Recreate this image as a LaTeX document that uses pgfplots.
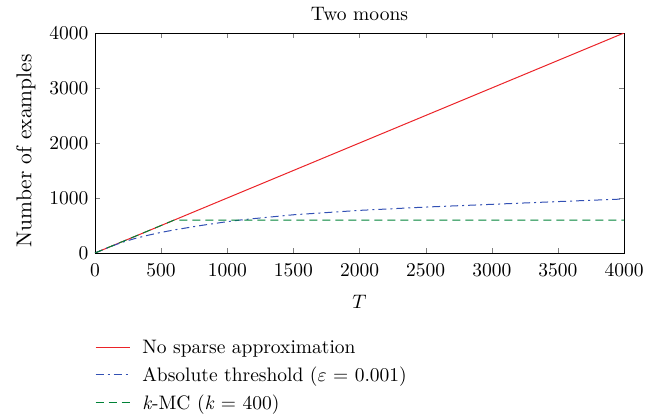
\documentclass[border=0pt]{standalone}
\usepackage{fontspec}
\setmainfont{lmroman10-regular.otf}[ItalicFont=lmroman10-italic.otf, BoldFont=lmroman10-bold.otf]
\DeclareFontShape{OML}{cmm}{m}{it}{<-> cmmi10}{}
\DeclareFontShape{OMS}{cmsy}{m}{n}{<-> cmsy10}{}
\DeclareFontShape{OT1}{cmr}{m}{n}{<-> cmr10}{}
\usepackage{pgfplots}
\pgfplotsset{compat=1.18}
\definecolor{cRed}{RGB}{235,35,40}
\definecolor{cBlue}{RGB}{50,80,180}
\definecolor{cGreen}{RGB}{0,130,55}
\begin{document}
\begin{tikzpicture}
\path[use as bounding box] (-95pt,-161pt) rectangle (563pt,253pt);
\begin{axis}[
  at={(0pt,0pt)}, anchor=south west,
  scale only axis,
  width=529pt, height=220pt,
  xmin=0, xmax=4000, ymin=0, ymax=4000,
  xtick={0,500,...,4000}, ytick={0,1000,...,4000},
  tick align=inside,
  major tick length=5pt,
  /pgf/number format/1000 sep={},
  font=\fontsize{19.5}{23}\selectfont,
  xticklabel style={yshift=-7pt},
  yticklabel style={xshift=-3pt},
  title={Two moons},
  title style={yshift=3pt},
  xlabel={$T$},
  xlabel style={yshift=-12pt},
  ylabel={Number of examples},
  ylabel style={font=\fontsize{21.5}{25}\selectfont, at={(ticklabel cs:0.465)}},
  ylabel shift=7pt,
  legend cell align=left,
  legend style={at={(axis description cs:0,-0.385)}, anchor=north west, draw=none, fill=none, row sep=8pt,
    inner sep=0pt, font=\fontsize{19.5}{23}\selectfont,
    /tikz/every odd column/.style={column sep=10pt}},
  legend image code/.code={\draw[#1, line width=1.1pt] (0pt,0pt) -- (34pt,0pt);},
]
\addplot[cRed, line width=1pt] coordinates {(0,0) (4000,4000)};
\addlegendentry{No sparse approximation}
\addplot[cBlue, line width=1pt, dash pattern=on 8pt off 4pt on 2pt off 4pt] coordinates {
(0,0) (100,100) (200,190) (300,262) (400,322) (500,375) (600,420) (700,460) (800,500) (900,535) (1000,570) (1100,600) (1200,625) (1500,695) (2000,775) (2500,835) (3000,885) (3500,935) (4000,982)};
\addlegendentry{Absolute threshold ($\varepsilon$ = 0.001)}
\addplot[cGreen, line width=1pt, dash pattern=on 8pt off 5pt] coordinates {(0,0) (600,600) (4000,600)};
\addlegendentry{\textit{k}-MC (\textit{k} = 400)}
\end{axis}
\end{tikzpicture}
\end{document}
